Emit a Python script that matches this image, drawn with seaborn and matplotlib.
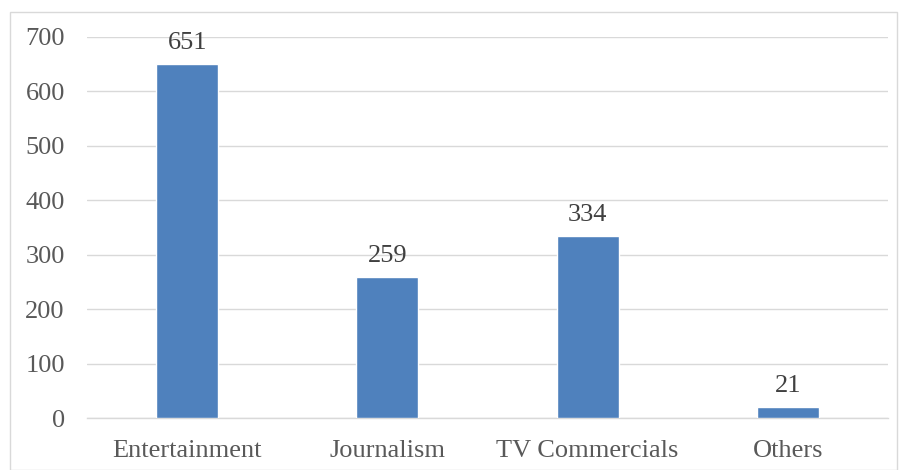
import matplotlib
matplotlib.use("Agg")
import matplotlib.pyplot as plt
import seaborn as sns
import pandas as pd
from matplotlib.patches import Rectangle

categories = ["Entertainment", "Journalism", "TV Commercials", "Others"]
values = [651, 259, 334, 21]
yticks = [0, 100, 200, 300, 400, 500, 600, 700]

sns.set_theme(style="white")
plt.rcParams['font.family'] = ['Liberation Serif', 'DejaVu Serif']

df = pd.DataFrame({"category": categories, "value": values})

fig = plt.figure(figsize=(9.01, 4.70), dpi=100)
ax = fig.add_axes([0.0966, 0.1106, 0.889, 0.8107])

sns.barplot(data=df, x="category", y="value", color="#4F81BD", saturation=1,
            width=0.31, ax=ax, zorder=3)

ax.set_xlim(-0.5, 3.5)
ax.set_ylim(0, 700)
ax.set_yticks(yticks)
ax.set_yticklabels([str(t) for t in yticks])
ax.set_xlabel("")
ax.set_ylabel("")
ax.grid(axis="y", color="#D9D9D9", linewidth=1.0, zorder=0)
ax.grid(axis="x", visible=False)
for s in ["top", "right", "left"]:
    ax.spines[s].set_visible(False)
ax.spines["bottom"].set_color("#D9D9D9")
ax.spines["bottom"].set_linewidth(1.0)
ax.tick_params(axis="both", length=0, labelsize=19, colors="#595959")
ax.tick_params(axis="y", pad=16)
ax.tick_params(axis="x", pad=16)

for i, v in enumerate(values):
    ax.annotate(str(v), (i, v), xytext=(0, 7), textcoords="offset points",
                ha="center", va="bottom", fontsize=19, color="#404040")

fig.patches.append(Rectangle((10/901, 0), 887/901, 1 - 12/470,
                             transform=fig.transFigure, fill=False,
                             edgecolor="#D9D9D9", linewidth=1.0))

fig.savefig("out.png", dpi=100)
